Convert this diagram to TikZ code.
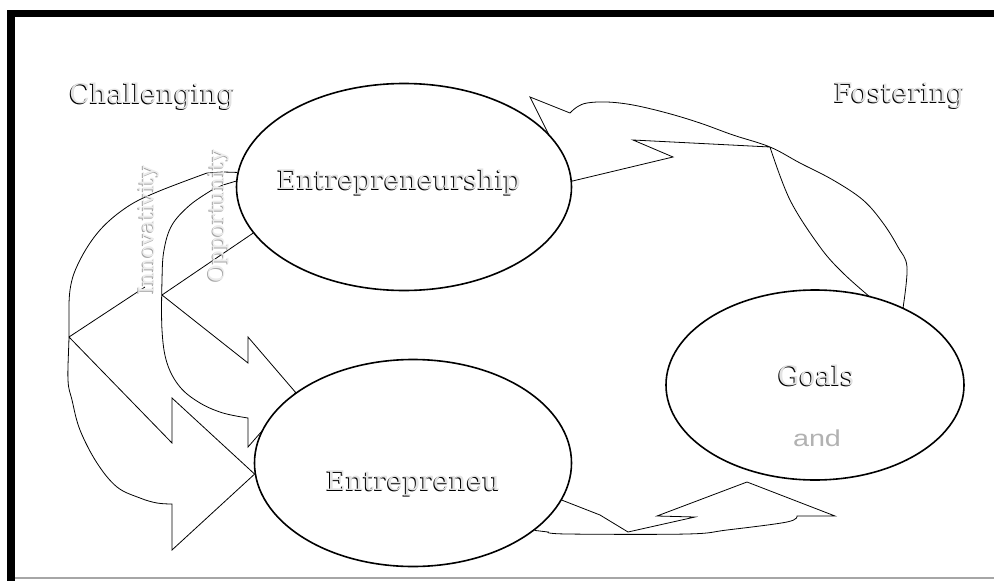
\documentclass[tikz,border=0pt]{standalone}
\usepackage{fontspec}
\newfontfamily\dvserif{DejaVu Serif}
\newfontfamily\lsans{Liberation Sans}
\usetikzlibrary{shapes.geometric,backgrounds}
\newcommand\lblbigfont{\dvserif\fontsize{27}{30}\selectfont}
\newcommand\lblvertfont{\dvserif\fontsize{21.5}{24}\selectfont}
\newcommand\shlabel[4]{%
  \node[xshift=-1pt,yshift=-1pt,#3 sh] (#1-s) at #2 {#4};
  \node[#3 top] (#1) at #2 {#4};}
\tikzset{
  bubble/.style={ellipse, draw=black, line width=1.6pt, fill=white, inner sep=0pt},
  arrowline/.style={draw=black, line width=0.8pt, line join=miter},
  big sh/.style={font=\lblbigfont, text=black, inner sep=0pt},
  big top/.style={font=\lblbigfont, text=gray!22, inner sep=0pt},
  vert sh/.style={font=\lblvertfont, text=gray!70, inner sep=0pt, rotate=90},
  vert top/.style={font=\lblvertfont, text=gray!15, inner sep=0pt, rotate=90},
  andtxt/.style={font=\lsans\fontsize{23}{26}\selectfont, text=gray!60, inner sep=0pt},
}
\begin{document}
\begin{tikzpicture}[x=1pt,y=-1pt]
\useasboundingbox (0,0) rectangle (994,581);
% frame
\fill[black] (7,10) rectangle (994,17);
\fill[black] (7,10) rectangle (15,581);
\draw[gray!70, line width=1.2pt] (15,578) -- (994,578);

% ellipses
\node[bubble, minimum width=335pt, minimum height=207pt] (ent) at (404,187) {};
\node[bubble, minimum width=317pt, minimum height=207pt] (entr) at (413,463) {};
\node[bubble, minimum width=298pt, minimum height=190pt] (goals) at (815,385) {};
\coordinate (tipb) at (747,482);

\begin{pgfonlayer}{background}
% outer left curved arrow
\draw[arrowline] (ent.175) -- (223,172) -- plot[smooth, tension=0.6] coordinates {(207,173) (157,192) (127,207) (100,230) (80,260) (70,290) (69,337) (68,380) (72,400) (80,430) (97,463) (117,487) (140,498) (157,503) (172,504)}
  -- (172,550) -- (entr.184) -- (172,398) -- (172,443) -- (69,337) -- (145,287);
% inner left curved arrow
\draw[arrowline] (ent.178) -- (223,185) -- plot[smooth, tension=0.6] coordinates {(212,190) (190,205) (172,225) (164,250) (162,280) (162,330) (167,363) (180,387) (200,403) (223,413) (248,418)}
  -- (248,447) -- (entr.149) -- (248,337) -- (248,363) -- (162,295) -- (ent.197);
% fostering arrow
\draw[arrowline] (goals.41) -- plot[smooth, tension=0.6] coordinates {(903,308) (907,267) (898,247) (883,223) (863,200) (833,180) (800,163) (770,147) (733,135) (700,123) (667,113) (633,105) (607,102) (587,103) (577,107) (570,113)}
  -- (530,97) -- (ent.2) -- (673,157) -- (633,140) -- (770,147)
  -- plot[smooth, tension=0.6] coordinates {(770,147) (790,200) (820,247) (843,273) (870,297)} -- (goals.58);
% bottom arrow
\draw[arrowline] (entr.346) -- (600,515) -- (628,532) -- (695,517) -- (657,516) -- (tipb) -- (835,516) -- (797,516)
  -- plot[smooth, tension=0.6] coordinates {(797,516) (787,522) (727,530) (687,534) (567,534) (548,532)} -- (entr.331);
\end{pgfonlayer}

% labels
\shlabel{chal}{(152,96)}{big}{Challenging}
\shlabel{fost}{(899,96)}{big}{Fostering}
\shlabel{entlbl}{(399,182)}{big}{Entrepreneurship}
\shlabel{entrlbl}{(413,483)}{big}{Entrepreneu}
\shlabel{goalslbl}{(816,375)}{big}{Goals}
\node[andtxt] (andlbl) at (817,438) {\scalebox{1.25}[1]{and}};
\shlabel{innov}{(149,230)}{vert}{Innovativity}
\shlabel{opp}{(219,216)}{vert}{Opportunity}
\end{tikzpicture}
\end{document}
